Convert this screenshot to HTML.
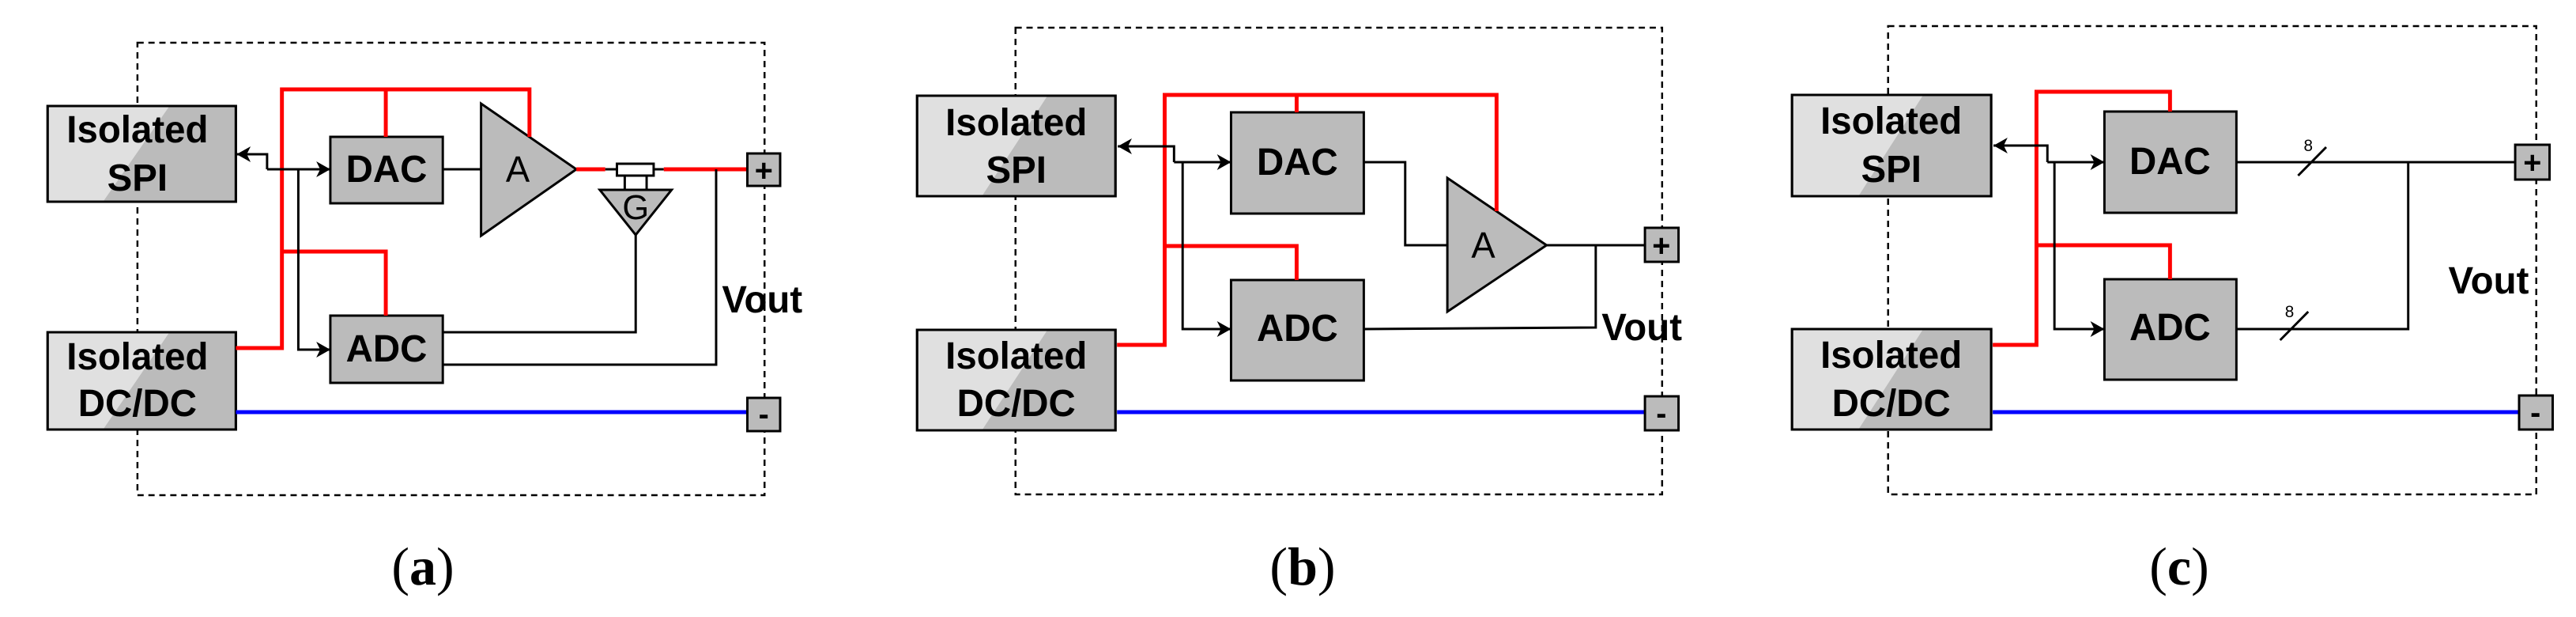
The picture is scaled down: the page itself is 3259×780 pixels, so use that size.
<!DOCTYPE html>
<html><head><meta charset="utf-8"><style>
html,body{margin:0;padding:0;background:#fff;}
svg{display:block;}
.t{font-family:"Liberation Sans",Arial,sans-serif;font-weight:bold;font-size:48px;text-anchor:middle;fill:#000;}
.r{font-family:"Liberation Sans",Arial,sans-serif;font-size:46px;text-anchor:middle;fill:#000;}
.cap{font-family:"Liberation Serif","Times New Roman",serif;font-size:68px;text-anchor:middle;fill:#000;}
.k{fill:none;stroke:#000;stroke-width:3;}
.rd{fill:none;stroke:#f00;stroke-width:5;}
.bl{fill:none;stroke:#00f;stroke-width:5;}
.bx{fill:#bbb;stroke:#000;stroke-width:3;}
.ds{fill:none;stroke:#000;stroke-width:2.5;stroke-dasharray:8 6;}
</style></head><body>
<svg width="3259" height="780" viewBox="0 0 3259 780" xmlns="http://www.w3.org/2000/svg">
<defs>
<marker id="ar" markerWidth="20" markerHeight="20" refX="18" refY="10" orient="auto" markerUnits="userSpaceOnUse">
<path d="M0,0 L18,10 L0,20 L5,10 Z" fill="#000"/>
</marker>
</defs>

<!-- Panel a -->
<g transform="matrix(0.988,0,0,1,0,0)">
<rect class="ds" x="176" y="54" width="803" height="572"/>
<rect class="bx" x="61" y="134" width="241" height="121"/>
<polygon points="62.5,135.5 216,135.5 133,253.5 62.5,253.5" fill="#e0e0e0"/>
<rect x="61" y="134" width="241" height="121" fill="none" stroke="#000" stroke-width="3"/>
<text class="t" x="176" y="180">Isolated</text><text class="t" x="176" y="241">SPI</text>
<rect class="bx" x="61" y="420" width="241" height="123"/>
<polygon points="62.5,421.5 216,421.5 133,541.5 62.5,541.5" fill="#e0e0e0"/>
<rect x="61" y="420" width="241" height="123" fill="none" stroke="#000" stroke-width="3"/>
<text class="t" x="176" y="467">Isolated</text><text class="t" x="176" y="526">DC/DC</text>
<rect class="bx" x="423" y="173" width="144" height="84"/><text class="t" x="495" y="230">DAC</text>
<rect class="bx" x="423" y="399" width="144" height="85"/><text class="t" x="495" y="457">ADC</text>
<polygon class="bx" points="616,131 738,214 616,298"/><text class="r" x="663" y="230">A</text>
<polyline class="rd" points="302,440 361,440 361,113 678,113 678,173"/>
<line class="rd" x1="494" y1="113" x2="494" y2="173"/>
<polyline class="rd" points="361,318 494,318 494,399"/>
<line class="rd" x1="738" y1="214" x2="775" y2="214"/>
<line class="k" x1="775" y1="214" x2="790" y2="214"/>
<line class="k" x1="837" y1="214" x2="850" y2="214"/>
<line class="rd" x1="850" y1="214" x2="957" y2="214"/>
<line class="k" x1="800" y1="222" x2="800" y2="240"/><line class="k" x1="828" y1="222" x2="828" y2="240"/>
<rect x="790" y="207" width="47" height="15" fill="#fff" stroke="#000" stroke-width="3"/>
<polygon class="bx" points="768,240 860,240 814,297"/><text class="r" x="814" y="277" style="font-size:44px">G</text>
<polyline class="k" points="814,297 814,420 567,420"/>
<polyline class="k" points="917,214 917,461 567,461"/>
<line class="k" x1="567" y1="214" x2="616" y2="214"/>
<polyline class="k" points="342,214 342,195 303,195" marker-end="url(#ar)"/>
<polyline class="k" points="342,214 423,214" marker-end="url(#ar)"/>
<polyline class="k" points="382,214 382,442 423,442" marker-end="url(#ar)"/>
<line class="bl" x1="302" y1="521" x2="957" y2="521"/>
<rect class="bx" x="957" y="194" width="42" height="41"/><text class="t" x="978" y="229" style="font-size:40px">+</text>
<rect class="bx" x="957" y="503" width="42" height="42"/><text class="t" x="978" y="537" style="font-size:40px">-</text>
<text class="t" x="976" y="395">Vout</text>
</g>
<text class="cap" x="535" y="739">(<tspan font-weight="bold">a</tspan>)</text>

<!-- Panel b -->
<g transform="matrix(0.988,0,0,1,13.2,0)">
<rect class="ds" x="1287" y="35" width="828" height="590"/>
<rect class="bx" x="1161" y="121" width="254" height="127"/>
<polygon points="1162.5,122.5 1327,122.5 1245,246.5 1162.5,246.5" fill="#e0e0e0"/>
<rect x="1161" y="121" width="254" height="127" fill="none" stroke="#000" stroke-width="3"/>
<text class="t" x="1288" y="171">Isolated</text><text class="t" x="1288" y="231">SPI</text>
<rect class="bx" x="1161" y="417" width="254" height="127"/>
<polygon points="1162.5,418.5 1327,418.5 1245,542.5 1162.5,542.5" fill="#e0e0e0"/>
<rect x="1161" y="417" width="254" height="127" fill="none" stroke="#000" stroke-width="3"/>
<text class="t" x="1288" y="466">Isolated</text><text class="t" x="1288" y="526">DC/DC</text>
<rect class="bx" x="1563" y="142" width="170" height="128"/><text class="t" x="1648" y="221">DAC</text>
<rect class="bx" x="1563" y="354" width="170" height="127"/><text class="t" x="1648" y="431">ADC</text>
<polygon class="bx" points="1840,225 1967,310 1840,394"/><text class="r" x="1886" y="326">A</text>
<polyline class="rd" points="1417,436 1478,436 1478,120 1903,120 1903,267"/>
<line class="rd" x1="1647" y1="120" x2="1647" y2="142"/>
<polyline class="rd" points="1478,311 1647,311 1647,354"/>
<polyline class="k" points="1490,205 1490,185 1418,185" marker-end="url(#ar)"/>
<polyline class="k" points="1490,205 1563,205" marker-end="url(#ar)"/>
<polyline class="k" points="1501,205 1501,416 1563,416" marker-end="url(#ar)"/>
<polyline class="k" points="1733,205 1786,205 1786,310 1840,310"/>
<line class="k" x1="1967" y1="310" x2="2093" y2="310"/>
<polyline class="k" points="2030,310 2030,414 1733,416"/>
<line class="bl" x1="1417" y1="521" x2="2093" y2="521"/>
<rect class="bx" x="2093" y="288" width="43" height="43"/><text class="t" x="2114" y="324" style="font-size:40px">+</text>
<rect class="bx" x="2093" y="501" width="43" height="43"/><text class="t" x="2114" y="536" style="font-size:40px">-</text>
<text class="t" x="2089" y="430">Vout</text>
</g>
<text class="cap" x="1648" y="739">(<tspan font-weight="bold">b</tspan>)</text>

<!-- Panel c -->
<g transform="matrix(0.988,0,0,1,26.4,0)">
<rect class="ds" x="2391" y="33" width="830" height="592"/>
<rect class="bx" x="2268" y="120" width="255" height="128"/>
<polygon points="2269.5,121.5 2435,121.5 2354,246.5 2269.5,246.5" fill="#e0e0e0"/>
<rect x="2268" y="120" width="255" height="128" fill="none" stroke="#000" stroke-width="3"/>
<text class="t" x="2395" y="169">Isolated</text><text class="t" x="2395" y="230">SPI</text>
<rect class="bx" x="2268" y="416" width="255" height="127"/>
<polygon points="2269.5,417.5 2435,417.5 2354,541.5 2269.5,541.5" fill="#e0e0e0"/>
<rect x="2268" y="416" width="255" height="127" fill="none" stroke="#000" stroke-width="3"/>
<text class="t" x="2395" y="465">Isolated</text><text class="t" x="2395" y="526">DC/DC</text>
<rect class="bx" x="2668" y="141" width="169" height="128"/><text class="t" x="2752" y="220">DAC</text>
<rect class="bx" x="2668" y="353" width="169" height="127"/><text class="t" x="2752" y="430">ADC</text>
<polyline class="rd" points="2525,436 2581,436 2581,116 2752,116 2752,141"/>
<polyline class="rd" points="2581,310 2752,310 2752,353"/>
<polyline class="k" points="2595,205 2595,184 2526,184" marker-end="url(#ar)"/>
<polyline class="k" points="2595,205 2668,205" marker-end="url(#ar)"/>
<polyline class="k" points="2604,205 2604,416 2668,416" marker-end="url(#ar)"/>
<line class="k" x1="2837" y1="205" x2="3194" y2="205"/>
<polyline class="k" points="3057,205 3057,416 2837,416"/>
<line class="k" x1="2916" y1="222" x2="2952" y2="186"/>
<line class="k" x1="2893" y1="430" x2="2929" y2="394"/>
<text class="r" x="2929" y="191" style="font-size:21px">8</text>
<text class="r" x="2905" y="401" style="font-size:21px">8</text>
<line class="bl" x1="2525" y1="521" x2="3199" y2="521"/>
<rect class="bx" x="3194" y="183" width="44" height="44"/><text class="t" x="3216" y="219" style="font-size:40px">+</text>
<rect class="bx" x="3199" y="500" width="43" height="43"/><text class="t" x="3220" y="535" style="font-size:40px">-</text>
<text class="t" x="3160" y="371">Vout</text>
</g>
<text class="cap" x="2757" y="739">(<tspan font-weight="bold">c</tspan>)</text>
</svg>
</body></html>
